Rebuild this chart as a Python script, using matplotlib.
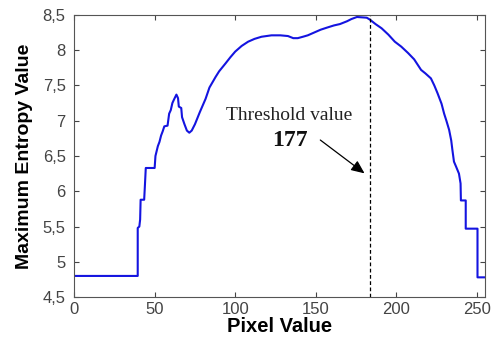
import numpy as np
from matplotlib import pyplot as plt

# ---- data ----
pixel = [0, 39.5, 39.5, 40.5, 41, 41.3, 43.5, 44, 44.5, 50, 50.5, 52, 53, 54, 55, 56, 58,
         59, 60, 61, 62, 63.5, 64.5, 65, 66.5, 67, 68.5, 70, 71.5, 73, 75, 78, 81.6, 84,
         87.8, 90, 93.9, 97, 100, 104, 108, 112, 116.3, 122.5, 128, 132.7, 136, 138.8,
         142, 145, 149, 153, 157, 161.2, 165, 169.4, 172, 175.5, 181.6, 183.7, 187,
         190.8, 195, 199, 203, 207.2, 211, 215.3, 218, 221.4, 223.5, 225.5, 228, 229.6,
         231, 232.7, 234, 234.7, 235.7, 237, 238.8, 239.8, 240, 243, 243, 250.3, 250.3, 255]
entropy = [4.8, 4.8, 5.48, 5.50, 5.6, 5.88, 5.88, 6.1, 6.33, 6.33, 6.5, 6.64, 6.70, 6.79,
           6.85, 6.92, 6.93, 7.1, 7.15, 7.25, 7.30, 7.37, 7.32, 7.2, 7.18, 7.05, 6.95,
           6.86, 6.83, 6.86, 6.95, 7.12, 7.31, 7.47, 7.62, 7.70, 7.81, 7.90, 7.98, 8.06,
           8.12, 8.16, 8.19, 8.21, 8.21, 8.20, 8.17, 8.17, 8.19, 8.21, 8.25, 8.29, 8.32,
           8.35, 8.37, 8.41, 8.44, 8.47, 8.46, 8.43, 8.37, 8.31, 8.22, 8.12, 8.05, 7.96,
           7.87, 7.72, 7.67, 7.60, 7.50, 7.39, 7.24, 7.10, 7.00, 6.87, 6.72, 6.59, 6.42,
           6.35, 6.25, 6.11, 5.87, 5.87, 5.47, 5.47, 4.78, 4.78]
threshold_x = 183.7
threshold_label = "177"

x_ticks = [0, 50, 100, 150, 200, 250]
y_ticks = [4.5, 5, 5.5, 6, 6.5, 7, 7.5, 8, 8.5]
y_tick_labels = ["4,5", "5", "5,5", "6", "6,5", "7", "7,5", "8", "8,5"]

# ---- plot ----
fig = plt.figure(figsize=(4.97, 3.38), dpi=100)
ax = fig.add_axes([0.149, 0.121, 0.827, 0.835])

ax.plot(pixel, entropy, color="#1414e0", linewidth=1.5)
ax.axvline(threshold_x, color="black", linewidth=0.9, linestyle=(0, (3, 2)))

ax.text(133.4, 7.08, "Threshold value", family="Liberation Serif", fontsize=14,
        ha="center", va="center", color="#222222")
ax.text(134, 6.72, threshold_label, family="Liberation Serif", fontsize=17,
        fontweight="bold", ha="center", va="center", color="#111111")
ax.annotate("", xy=(181.6, 6.23), xytext=(151.4, 6.75),
            arrowprops=dict(arrowstyle="-|>,head_length=0.8,head_width=0.35",
                            color="black", linewidth=0.9))

ax.set_xlim(0, 255)
ax.set_ylim(4.5, 8.5)
ax.set_xticks(x_ticks)
ax.set_yticks(y_ticks)
ax.set_yticklabels(y_tick_labels)
ax.tick_params(direction="in", top=True, right=True, length=3.5, width=0.8,
               labelsize=12, labelcolor="#444444", colors="#444444")
ax.tick_params(axis="y", pad=6)
for lab in ax.get_xticklabels() + ax.get_yticklabels():
    lab.set_family("Liberation Sans")
for sp in ax.spines.values():
    sp.set_color("#555555")
    sp.set_linewidth(0.8)

ax.set_xlabel("Pixel Value", family="Liberation Sans", fontsize=14.5,
              fontweight="bold", labelpad=0)
ax.set_ylabel("Maximum Entropy Value", family="Liberation Sans", fontsize=14,
              fontweight="bold", labelpad=7)

fig.savefig("out.png", dpi=100)
